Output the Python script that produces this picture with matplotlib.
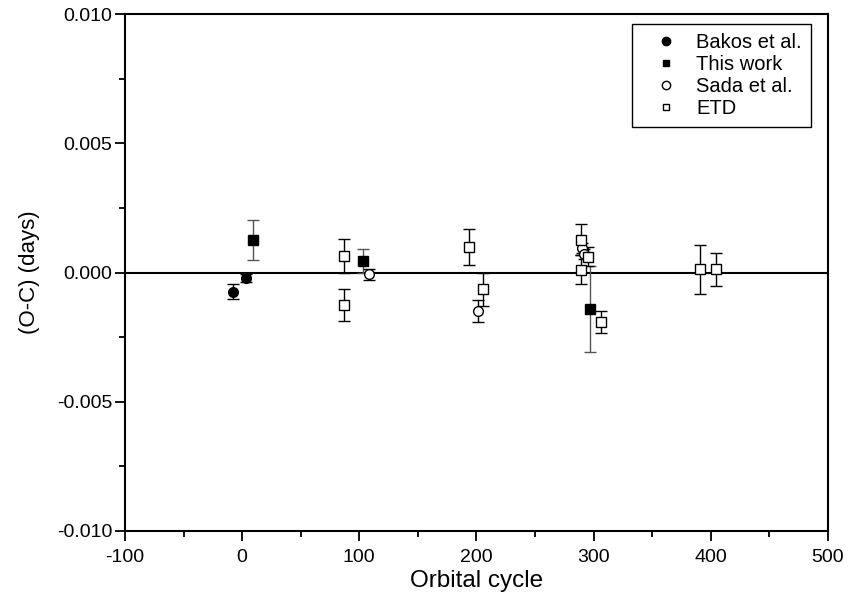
import matplotlib
matplotlib.use("Agg")
import matplotlib.pyplot as plt
from matplotlib.ticker import MultipleLocator, FormatStrFormatter
from matplotlib.lines import Line2D

plt.rcParams['font.family'] = ['Liberation Sans', 'DejaVu Sans']
plt.rcParams['axes.unicode_minus'] = False

# Bakos et al.
bakos_x = [-8, 3]
bakos_y = [-0.00074, -0.00022]
bakos_e = [0.00028, 0.00016]

# This work
this_x = [9, 103, 297]
this_y = [0.00126, 0.00046, -0.00142]
this_e = [0.00076, 0.00047, 0.00166]

# Sada et al.
sada_x = [108.5, 201, 290, 292]
sada_y = [-0.00006, -0.00149, 0.00096, 0.00072]
sada_e = [0.00021, 0.00043, 0.00020, 0.00020]

# ETD
etd_x = [87, 87, 194, 206, 289, 289, 295, 306, 390.5, 404.5]
etd_y = [0.00064, -0.00126, 0.00100, -0.00064, 0.00127, 0.00010, 0.00062, -0.00190, 0.00012, 0.00012]
etd_e = [0.00066, 0.00061, 0.00070, 0.00064, 0.00059, 0.00056, 0.00035, 0.00043, 0.00095, 0.00063]

labels = ['Bakos et al.', 'This work', 'Sada et al.', 'ETD']

fig = plt.figure(figsize=(8.49, 6.01), dpi=100)
ax = fig.add_axes([0.1472, 0.1165, 0.828, 0.860])

ax.axhline(0, color='black', lw=1.5, zorder=1)

ekw = dict(ls='none', ecolor='black', elinewidth=1, capsize=4, capthick=1, zorder=3)
ax.errorbar(bakos_x, bakos_y, yerr=bakos_e, fmt='o', mfc='black', mec='black', ms=7, **ekw)
ax.errorbar(this_x, this_y, yerr=this_e, fmt='s', mfc='black', mec='black', ms=7,
            ls='none', ecolor='#555555', elinewidth=1, capsize=4, capthick=1, zorder=3)
ax.errorbar(sada_x, sada_y, yerr=sada_e, fmt='o', mfc='white', mec='black', ms=7, mew=1, **ekw)
ax.errorbar(etd_x, etd_y, yerr=etd_e, fmt='s', mfc='white', mec='black', ms=7, mew=1, **ekw)

ax.set_xlim(-100, 500)
ax.set_ylim(-0.010, 0.010)
ax.xaxis.set_major_locator(MultipleLocator(100))
ax.xaxis.set_minor_locator(MultipleLocator(50))
ax.yaxis.set_major_locator(MultipleLocator(0.005))
ax.yaxis.set_minor_locator(MultipleLocator(0.0025))
ax.yaxis.set_major_formatter(FormatStrFormatter('%.3f'))
ax.tick_params(which='both', direction='out', top=False, right=False, labelsize=14, width=1.3)
ax.tick_params(which='major', length=7, pad=2)
ax.tick_params(axis='x', which='major', pad=6)
ax.tick_params(which='minor', length=4)
for s in ax.spines.values():
    s.set_linewidth(1.5)

ax.set_xlabel('Orbital cycle', fontsize=17.5, labelpad=3)
ax.set_ylabel('(O-C) (days)', fontsize=16, labelpad=12)

hs = [Line2D([], [], ls='none', marker='o', mfc='black', mec='black', ms=6),
      Line2D([], [], ls='none', marker='s', mfc='black', mec='black', ms=5),
      Line2D([], [], ls='none', marker='o', mfc='white', mec='black', ms=6),
      Line2D([], [], ls='none', marker='s', mfc='white', mec='black', ms=5)]
leg = ax.legend(hs, labels, loc='upper right', bbox_to_anchor=(811 / 849, 1 - 24 / 601),
                bbox_transform=fig.transFigure, borderaxespad=0, fontsize=14.5,
                frameon=True, fancybox=False, edgecolor='black', framealpha=1,
                handletextpad=0.25, borderpad=0.45, labelspacing=0.15, handlelength=2.5)
leg.get_frame().set_linewidth(1)

fig.savefig('out.png', dpi=100)
